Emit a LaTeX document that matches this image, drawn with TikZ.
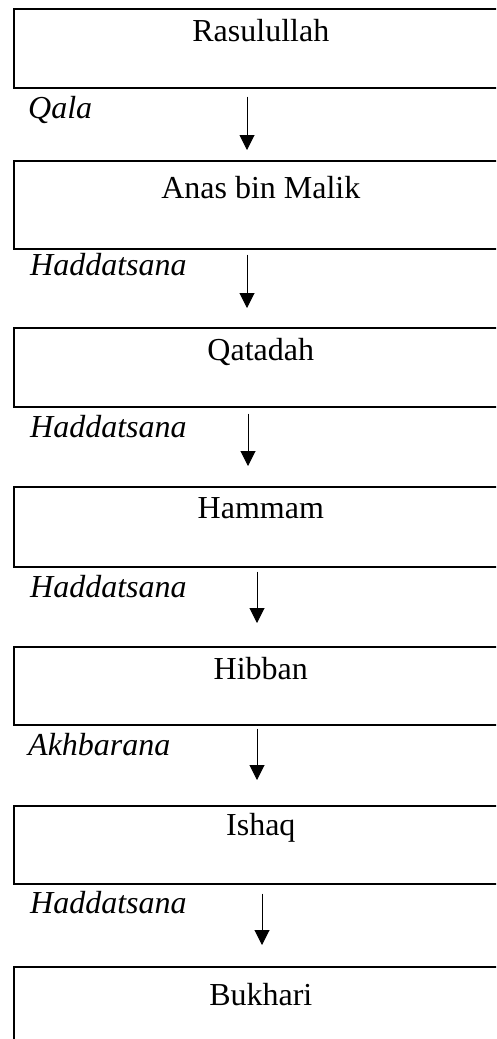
\documentclass[tikz,border=0pt]{standalone}
\usepackage{fontspec}
\setmainfont{Liberation Serif}
\usepackage{tikz}
\usetikzlibrary{arrows.meta}
\tikzset{
    perawi/.style={shape=rectangle, draw=black, line width=1.6pt, inner sep=0pt,
        minimum width=494pt, text height=33pt, text depth=46pt, anchor=north west,
        font=\fontsize{32}{38}\selectfont},
    sighat/.style={anchor=base west, inner sep=0pt, font=\fontsize{32}{38}\selectfont\itshape},
    turun/.style={line width=1pt, -{Triangle[width=15pt,length=15pt]}}}

\begin{document}
\begin{tikzpicture}[x=1pt, y=-1pt]

    \clip (0,0) rectangle (496,1039);

    \node[perawi] (rasul) at (13,8) {Rasulullah};
    \node[perawi, text height=38pt, text depth=50pt] (anas) at (13,160) {Anas bin Malik};
    \node[perawi] (qatadah) at (13,327) {Qatadah};
    \node[perawi, text height=32pt, text depth=48pt] (hammam) at (13,486) {Hammam};
    \node[perawi, text height=33pt, text depth=45pt] (hibban) at (13,646) {Hibban};
    \node[perawi, text height=30pt, text depth=48pt] (ishaq) at (13,805) {Ishaq};
    \node[perawi, text height=39pt, text depth=60pt] (bukhari) at (13,966) {Bukhari};

    \node[sighat] (s1) at (28,118) {Qala};
    \node[sighat] (s2) at (30,275) {Haddatsana};
    \node[sighat] (s3) at (30,437) {Haddatsana};
    \node[sighat] (s4) at (30,597) {Haddatsana};
    \node[sighat] (s5) at (28,755) {Akhbarana};
    \node[sighat] (s6) at (30,913) {Haddatsana};

    \draw[turun, shorten <=8pt, shorten >=10pt] ([xshift=234pt]rasul.south west) -- ([xshift=234pt]anas.north west);
    \draw[turun, shorten <=5pt, shorten >=19pt] ([xshift=234pt]anas.south west) -- ([xshift=234pt]qatadah.north west);
    \draw[turun, shorten <=6pt, shorten >=20pt] ([xshift=235pt]qatadah.south west) -- ([xshift=235pt]hammam.north west);
    \draw[turun, shorten <=4pt, shorten >=23pt] ([xshift=244pt]hammam.south west) -- ([xshift=244pt]hibban.north west);
    \draw[turun, shorten <=3pt, shorten >=25pt] ([xshift=244pt]hibban.south west) -- ([xshift=244pt]ishaq.north west);
    \draw[turun, shorten <=9pt, shorten >=21pt] ([xshift=249pt]ishaq.south west) -- ([xshift=249pt]bukhari.north west);

\end{tikzpicture}
\end{document}
